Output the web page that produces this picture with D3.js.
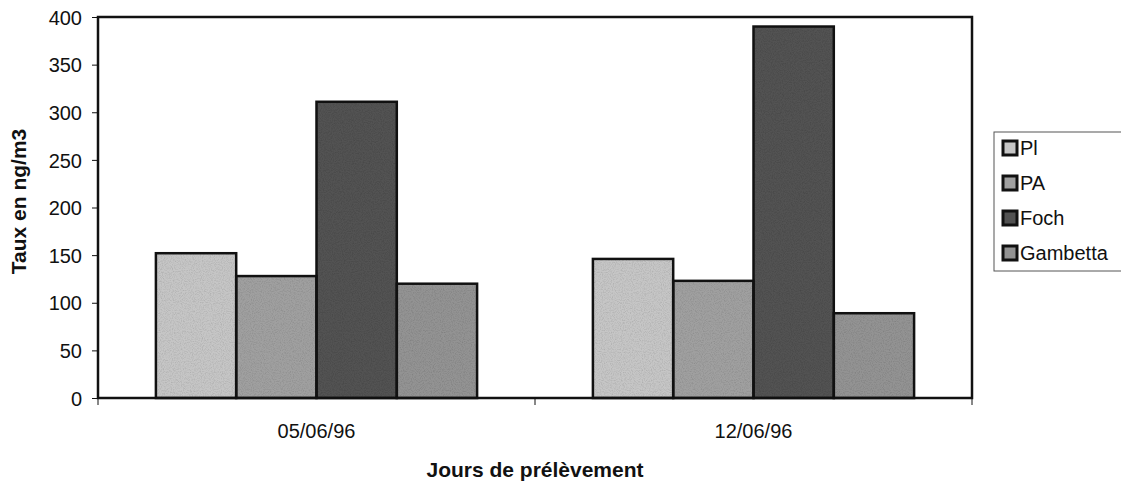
<!DOCTYPE html>
<html>
<head>
<meta charset="utf-8">
<script src="https://cdn.jsdelivr.net/npm/d3@7"></script>
<style>
  body { margin: 0; background: #fff; }
  text { font-family: "Liberation Sans", Arial, sans-serif; fill: #111; }
</style>
</head>
<body>
<div id="chart"></div>
<script>
// donnees
var jours = ["05/06/96", "12/06/96"];
var series = ["Pl", "PA", "Foch", "Gambetta"];
var valPl = [152, 146];
var valPA = [128, 123];
var valFoch = [311, 390];
var valGambetta = [120, 89];
var yTicks = [0, 50, 100, 150, 200, 250, 300, 350, 400];
var couleurs = ["#c6c6c6", "#a0a0a0", "#525252", "#939393"];

var valeurs = [valPl, valPA, valFoch, valGambetta];

const margin = {top: 17, right: 149, bottom: 88, left: 98},
  width = 1121 - margin.left - margin.right,
  height = 486 - margin.top - margin.bottom;

const svg = d3.select("#chart").append("svg")
  .attr("width", 1121)
  .attr("height", 486);

// grain leger du scan
const filtre = svg.append("defs").append("filter")
  .attr("id", "grain")
  .attr("x", 0).attr("y", 0).attr("width", 1).attr("height", 1);
filtre.append("feTurbulence")
  .attr("type", "fractalNoise")
  .attr("baseFrequency", 0.9)
  .attr("numOctaves", 2)
  .attr("seed", 3)
  .attr("result", "bruit");
filtre.append("feColorMatrix")
  .attr("in", "bruit")
  .attr("type", "matrix")
  .attr("values", "0 0 0 0 0  0 0 0 0 0  0 0 0 0 0  0 0 0 0.5 -0.2")
  .attr("result", "taches");
filtre.append("feComposite")
  .attr("in", "taches")
  .attr("in2", "SourceGraphic")
  .attr("operator", "atop")
  .attr("result", "mix");
filtre.append("feMerge").selectAll("feMergeNode")
  .data(["SourceGraphic", "mix"])
  .enter().append("feMergeNode")
  .attr("in", d => d);

const g = svg.append("g")
  .attr("transform", "translate(" + margin.left + "," + margin.top + ")");

const x0 = d3.scaleBand()
  .domain(jours)
  .range([0, width])
  .paddingInner(0.265)
  .paddingOuter(0.1325);

const x1 = d3.scaleBand()
  .domain(series)
  .range([0, x0.bandwidth()]);

const y = d3.scaleLinear()
  .domain([0, 400])
  .range([height, 0]);

// barres
jours.forEach(function(j, i) {
  g.selectAll(".bar" + i)
    .data(series)
    .enter().append("rect")
    .attr("x", s => x0(j) + x1(s))
    .attr("y", (s, k) => y(valeurs[k][i]))
    .attr("width", x1.bandwidth())
    .attr("height", (s, k) => height - y(valeurs[k][i]))
    .attr("fill", (s, k) => couleurs[k])
    .attr("filter", "url(#grain)");
  g.selectAll(".contour" + i)
    .data(series)
    .enter().append("rect")
    .attr("x", s => x0(j) + x1(s))
    .attr("y", (s, k) => y(valeurs[k][i]))
    .attr("width", x1.bandwidth())
    .attr("height", (s, k) => height - y(valeurs[k][i]))
    .attr("fill", "none")
    .attr("stroke", "#111")
    .attr("stroke-width", 2.5);
});

// cadre
g.append("rect")
  .attr("x", 0).attr("y", 0)
  .attr("width", width).attr("height", height)
  .attr("fill", "none")
  .attr("stroke", "#111")
  .attr("stroke-width", 2.5);

// axe y
const yAxis = g.append("g")
  .call(d3.axisLeft(y).tickValues(yTicks).tickSize(6).tickPadding(10));
yAxis.select(".domain").remove();
yAxis.selectAll("text").style("font-size", "20px").attr("dy", "0.36em");
yAxis.selectAll("line").attr("stroke", "#111");

// axe x : graduations aux limites des categories
const step = width / jours.length;
const bornes = d3.range(jours.length + 1).map(i => i * step);
g.selectAll(".xtick")
  .data(bornes)
  .enter().append("line")
  .attr("x1", d => d).attr("x2", d => d)
  .attr("y1", height).attr("y2", height + 7)
  .attr("stroke", "#111");

g.selectAll(".xlab")
  .data(jours)
  .enter().append("text")
  .attr("x", d => x0(d) + x0.bandwidth() / 2)
  .attr("y", height + 40)
  .attr("text-anchor", "middle")
  .style("font-size", "20px")
  .text(d => d);

// titres des axes
svg.append("text")
  .attr("x", margin.left + width / 2)
  .attr("y", 477)
  .attr("text-anchor", "middle")
  .style("font-size", "21px")
  .style("font-weight", "bold")
  .text("Jours de prélèvement");

svg.append("text")
  .attr("transform", "translate(26," + (margin.top + height / 2 - 6) + ") rotate(-90)")
  .attr("text-anchor", "middle")
  .style("font-size", "21px")
  .style("font-weight", "bold")
  .text("Taux en ng/m3");

// legende
const leg = svg.append("g").attr("transform", "translate(994,132)");
leg.append("rect")
  .attr("width", 130).attr("height", 139)
  .attr("fill", "#fff")
  .attr("stroke", "#555")
  .attr("stroke-width", 1);

const items = leg.selectAll(".item")
  .data(series)
  .enter().append("g")
  .attr("transform", (d, i) => "translate(9," + (16 + i * 35) + ")");

items.append("rect")
  .attr("x", 0).attr("y", -7)
  .attr("width", 14).attr("height", 14)
  .attr("fill", (d, i) => couleurs[i])
  .attr("stroke", "#111")
  .attr("stroke-width", 3);

items.append("text")
  .attr("x", 17)
  .attr("y", 7)
  .style("font-size", "20px")
  .text(d => d);
</script>
</body>
</html>
